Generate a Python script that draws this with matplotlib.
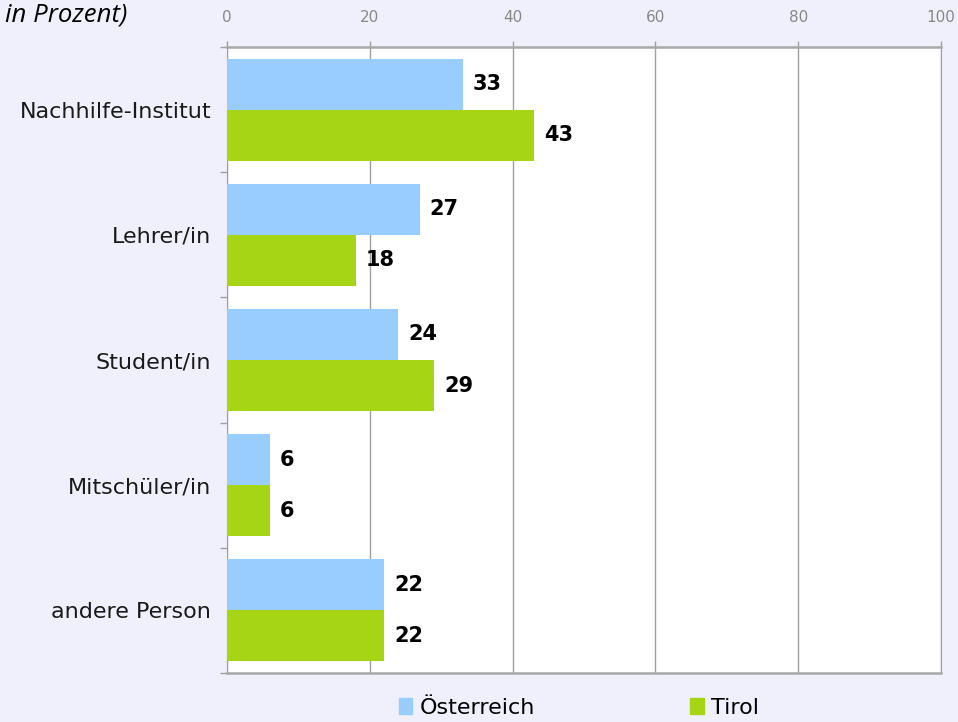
import numpy as np
import matplotlib.pyplot as plt
from matplotlib.patches import Patch

categories = ['Nachhilfe-Institut', 'Lehrer/in', 'Student/in', 'Mitschüler/in', 'andere Person']
oesterreich = [33, 27, 24, 6, 22]
tirol = [43, 18, 29, 6, 22]
series_names = ['Österreich', 'Tirol']
xticks = [0, 20, 40, 60, 80, 100]

blue = '#99CCFF'
green = '#A6D515'
bg = '#F0F0FC'
grey = '#A0A0A0'

fig = plt.figure(figsize=(9.58, 7.22), dpi=100, facecolor=bg)
ax = fig.add_axes([227 / 958, 1 - 673 / 722, 714 / 958, 626 / 722])
ax.set_facecolor('white')

y = np.arange(len(categories))
h = 0.408
ax.barh(y - h / 2, oesterreich, height=h, color=blue, zorder=3)
ax.barh(y + h / 2, tirol, height=h, color=green, zorder=3)

for i in range(len(categories)):
    ax.text(oesterreich[i] + 1.4, y[i] - h / 2, str(oesterreich[i]), va='center', ha='left',
            fontsize=15, fontweight='bold', color='black', zorder=4)
    ax.text(tirol[i] + 1.4, y[i] + h / 2, str(tirol[i]), va='center', ha='left',
            fontsize=15, fontweight='bold', color='black', zorder=4)

ax.set_xlim(0, 100)
ax.set_ylim(len(categories) - 0.5, -0.5)
ax.set_xticks(xticks)
ax.set_xticklabels([str(t) for t in xticks])
ax.xaxis.tick_top()
ax.tick_params(axis='x', colors=grey, labelcolor='#888888', labelsize=11,
               length=4.5, width=1, pad=11)
ax.grid(axis='x', color=grey, linewidth=1, zorder=1)

# category labels at band centres, tick marks at band borders
ax.set_yticks(y)
ax.set_yticklabels(categories, fontsize=16, color='#1A1A1A')
ax.tick_params(axis='y', length=0, pad=11.5)
ax.set_yticks(np.arange(-0.5, len(categories) + 0.5, 1), minor=True)
ax.tick_params(axis='y', which='minor', length=5, color=grey, width=1)

for side in ['top', 'bottom']:
    ax.spines[side].set_color('#A8A8A8')
    ax.spines[side].set_linewidth(1.8)
ax.spines['left'].set_color(grey)
ax.spines['right'].set_color(grey)

fig.text(5 / 958, 1 - 15 / 722, 'in Prozent)', fontsize=18.5, style='italic',
         family='Open Sans', va='center', ha='left')

handles = [Patch(color=blue), Patch(color=green)]
fig.legend(handles, series_names, loc='center', bbox_to_anchor=(579 / 958, 1 - 708 / 722),
           ncol=2, frameon=False, fontsize=16, handlelength=0.6, handleheight=0.75,
           handletextpad=0.32, columnspacing=7.0, borderpad=0, borderaxespad=0)

fig.savefig('out.png', dpi=100, facecolor=bg)
